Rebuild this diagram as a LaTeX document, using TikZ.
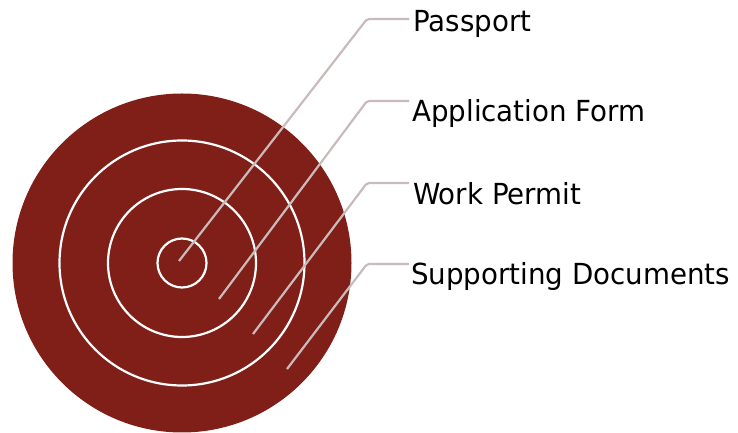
\documentclass[tikz,border=0pt]{standalone}
\usepackage{fontspec}
\setmainfont{DejaVu Sans}
\definecolor{target}{HTML}{7F1F18}
\definecolor{leader}{HTML}{C9BBBB}
\newcommand{\lbltext}[1]{\scalebox{0.955}[1]{#1}}
\begin{document}
\begin{tikzpicture}[x=1pt,y=1pt,
  ring/.style={draw=white,line width=2.2pt},
  leadline/.style={draw=leader,line width=2.2pt,rounded corners=2pt},
  lbl/.style={anchor=base west,inner sep=0pt,font=\fontsize{29}{34}\selectfont,text=black}]
\useasboundingbox (0,0) rectangle (738,433);
\fill[target] (182,170) circle (169.5);
\draw[ring] (182,170) circle (122.5);
\draw[ring] (182,170) circle (74);
\draw[ring] (182,170) circle (24.5);
\coordinate (e1) at (179,172);
\coordinate (e2) at (219,134);
\coordinate (e3) at (253,99);
\coordinate (e4) at (287,64);
\node[lbl] (t1) at (413,401) {\lbltext{Passport}};
\node[lbl] (t2) at (412,311) {\lbltext{Application Form}};
\node[lbl] (t3) at (413,228) {\lbltext{Work Permit}};
\node[lbl] (t4) at (411,148) {\lbltext{Supporting Documents}};
\draw[leadline] (e1) -- (367,414) -- (409,414);
\draw[leadline] (e2) -- (367,332) -- (409,332);
\draw[leadline] (e3) -- (367,250) -- (409,250);
\draw[leadline] (e4) -- (367,169) -- (409,169);
\end{tikzpicture}
\end{document}
